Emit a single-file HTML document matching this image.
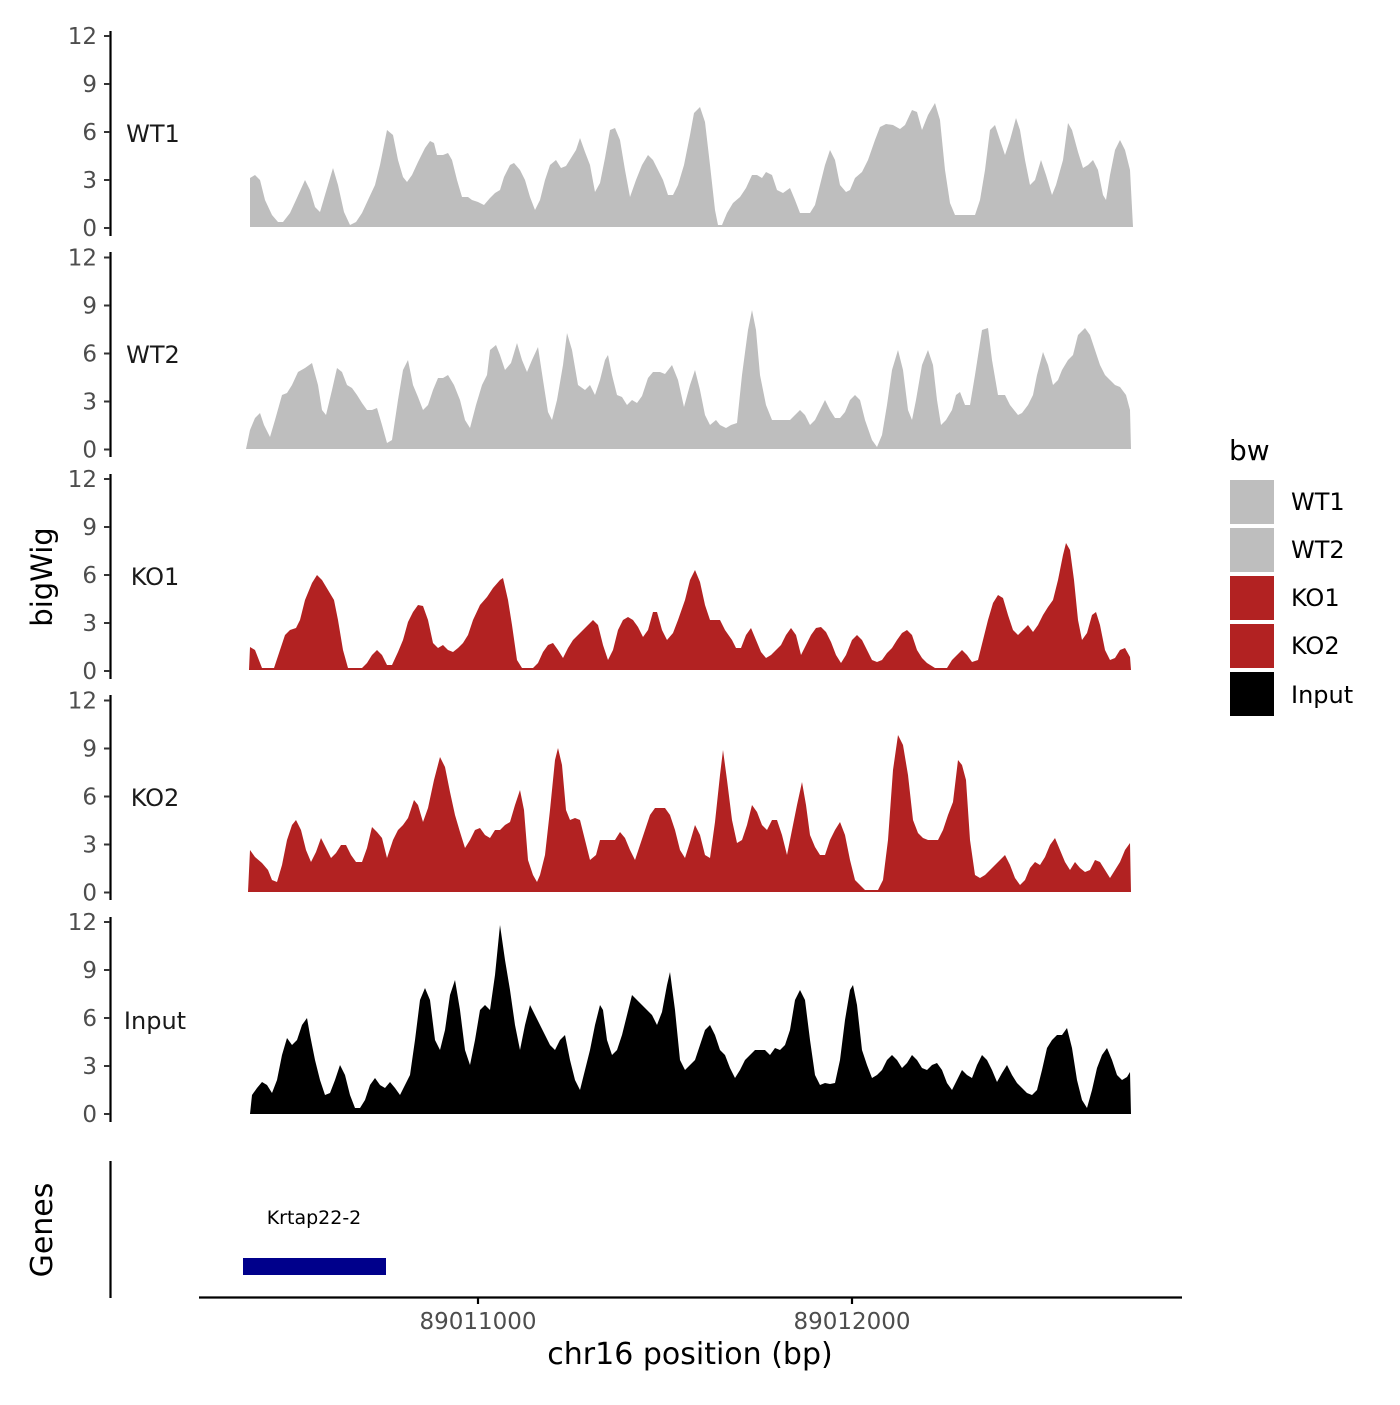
<!DOCTYPE html>
<html><head><meta charset="utf-8"><style>
html,body{margin:0;padding:0;background:#fff;}
svg text{font-family:"DejaVu Sans","Liberation Sans",sans-serif;}
</style></head><body>
<svg width="1400" height="1400" viewBox="0 0 1400 1400" xmlns="http://www.w3.org/2000/svg">
<rect width="1400" height="1400" fill="#fff"/>
<g stroke="#000" stroke-width="2.2" fill="none">
<line x1="110.5" y1="31" x2="110.5" y2="236"/>
<line x1="110.5" y1="252" x2="110.5" y2="457"/>
<line x1="110.5" y1="474" x2="110.5" y2="679"/>
<line x1="110.5" y1="695" x2="110.5" y2="900"/>
<line x1="110.5" y1="917" x2="110.5" y2="1122"/>
<line x1="110.5" y1="1161" x2="110.5" y2="1298"/>
<line x1="199" y1="1297.5" x2="1182" y2="1297.5"/>
<line x1="478" y1="1297" x2="478" y2="1304"/>
<line x1="852" y1="1297" x2="852" y2="1304"/>
</g>
<g fill="#4d4d4d" font-size="23" text-anchor="end">
<g id="t1"><text x="97" y="44">12</text><text x="97" y="92">9</text><text x="97" y="140">6</text><text x="97" y="188">3</text><text x="97" y="236">0</text></g>
<use href="#t1" y="221.5"/><use href="#t1" y="443"/><use href="#t1" y="664.5"/><use href="#t1" y="886"/>
</g>
<g stroke="#333" stroke-width="2">
<g id="k1"><line x1="104" y1="36" x2="110" y2="36"/><line x1="104" y1="84" x2="110" y2="84"/><line x1="104" y1="132" x2="110" y2="132"/><line x1="104" y1="180" x2="110" y2="180"/><line x1="104" y1="228" x2="110" y2="228"/></g>
<use href="#k1" y="221.5"/><use href="#k1" y="443"/><use href="#k1" y="664.5"/><use href="#k1" y="886"/>
</g>
<g font-size="24" fill="#1a1a1a" text-anchor="middle">
<text x="153" y="142">WT1</text><text x="153" y="363">WT2</text><text x="155" y="585">KO1</text><text x="155" y="806">KO2</text><text x="155" y="1029">Input</text>
</g>
<polygon fill="#bebebe" points="250,227 250,178 255,175 260,180 265,200 272,215 278,222 283,222 290,213 296,200 305,180 310,190 315,207 320,212 325,195 333,168 338,185 344,212 350,225 356,222 362,213 368,200 375,185 380,165 387,130 393,135 398,160 403,177 407,182 412,175 418,162 425,148 430,141 434,143 437,155 443,155 448,153 452,160 457,180 462,197 468,197 472,200 478,202 484,205 490,198 495,193 500,190 504,177 510,165 514,163 520,170 525,180 530,197 535,210 540,200 545,180 550,165 556,160 561,168 566,166 571,158 576,150 580,138 585,152 590,165 595,192 600,183 605,158 610,130 615,128 620,140 625,170 630,197 636,180 642,165 648,155 653,160 658,170 663,180 668,195 673,195 678,185 684,165 690,135 694,113 700,107 705,122 710,165 715,210 718,225 722,225 727,213 733,203 740,197 746,188 752,175 757,175 762,178 766,172 772,175 777,190 783,193 790,188 795,200 800,213 810,213 815,205 820,185 825,165 830,150 835,160 840,185 846,192 850,190 855,178 862,172 868,160 875,140 880,127 886,124 893,125 900,129 905,125 912,110 917,112 922,130 928,115 935,103 940,120 945,170 950,203 955,215 975,215 980,200 985,170 990,130 995,125 1000,140 1005,155 1010,140 1016,118 1020,130 1025,160 1030,185 1035,180 1041,160 1046,175 1052,195 1056,185 1063,160 1068,123 1072,130 1078,152 1083,168 1088,165 1093,160 1098,170 1103,195 1106,200 1110,175 1115,150 1120,140 1125,150 1130,170 1133,227"/>
<polygon fill="#bebebe" points="246,449 250,430 255,418 260,413 264,425 270,437 275,420 282,395 287,393 292,385 298,372 305,368 312,363 318,385 322,410 326,415 332,390 337,368 342,372 347,385 352,388 357,395 362,403 367,410 372,410 377,408 382,425 387,443 392,440 398,400 403,370 408,360 413,385 418,397 423,410 428,405 433,390 438,378 443,378 448,375 454,385 460,400 465,420 470,428 476,405 482,385 487,375 490,350 496,345 500,355 505,370 511,363 517,343 522,360 527,372 532,360 538,347 543,380 548,412 552,420 557,400 563,365 567,333 572,350 578,385 585,390 590,385 595,395 600,380 605,360 608,355 612,375 617,395 622,397 627,405 632,400 637,403 642,396 648,378 653,372 660,372 665,374 672,365 678,380 684,407 690,385 695,370 700,390 705,415 710,425 716,420 720,425 726,428 731,425 737,423 742,375 748,330 752,310 756,330 760,375 766,405 772,420 790,420 795,415 800,410 805,415 810,425 815,420 820,410 825,400 830,410 835,418 840,418 845,412 850,400 855,395 860,400 865,420 872,440 877,447 882,435 887,405 892,370 898,350 903,370 908,410 912,420 916,400 922,365 928,350 933,365 937,400 941,425 946,420 952,410 956,395 960,392 965,405 970,405 975,375 982,330 988,328 992,360 998,395 1005,395 1010,405 1018,415 1022,413 1028,405 1033,395 1037,375 1043,352 1048,365 1053,385 1058,380 1062,370 1068,360 1073,355 1078,335 1085,328 1090,335 1095,350 1100,365 1105,375 1110,380 1115,385 1120,387 1126,395 1130,410 1131,449"/>
<polygon fill="#b22222" points="249,670 250,647 255,650 262,668 274,668 280,650 285,635 290,630 296,628 300,620 305,600 312,583 317,575 322,580 328,590 334,600 338,620 343,650 348,668 362,668 367,663 372,655 377,650 382,655 387,665 392,665 398,652 403,640 408,622 413,612 418,605 423,606 428,620 433,643 438,648 443,645 448,650 453,652 458,648 463,643 468,635 473,620 480,605 487,597 493,588 500,580 503,578 508,600 512,625 517,660 522,668 533,668 538,663 543,652 548,645 553,643 558,650 563,658 568,648 573,640 578,635 583,630 588,625 593,620 598,625 603,645 608,660 613,650 618,630 623,620 628,617 633,620 638,627 643,637 648,630 653,612 657,612 662,630 667,640 673,633 678,620 685,600 690,580 695,570 700,582 705,605 710,620 720,620 725,630 732,640 736,648 741,648 746,635 751,628 756,640 761,652 766,658 771,655 776,650 781,645 786,635 791,628 796,635 801,655 806,645 811,635 816,628 821,627 826,632 831,642 836,655 841,663 846,655 852,640 857,635 862,640 867,650 872,660 877,662 882,660 887,653 892,648 897,640 902,633 907,630 912,635 917,650 922,658 927,663 935,668 947,668 952,660 957,655 962,650 967,655 972,662 978,660 983,640 988,620 993,603 998,595 1003,598 1008,615 1013,630 1018,635 1023,630 1028,625 1033,632 1038,625 1043,615 1048,607 1053,600 1058,580 1063,555 1066,543 1070,550 1074,580 1078,620 1082,640 1087,633 1092,615 1096,612 1100,625 1105,650 1110,660 1115,658 1120,650 1125,648 1130,657 1131,670"/>
<polygon fill="#b22222" points="248,892 250,850 255,857 262,863 268,870 272,880 277,882 282,865 287,840 292,825 296,820 301,830 306,850 311,862 316,852 321,838 326,848 331,858 336,853 341,845 346,845 351,855 356,862 362,862 367,848 372,827 377,832 382,838 387,858 393,840 398,830 403,825 408,818 414,800 418,805 423,822 428,808 434,780 440,757 445,767 450,792 455,815 460,832 465,848 470,840 475,830 480,828 485,835 490,838 495,830 500,830 505,825 510,822 515,805 520,790 524,810 528,860 533,875 537,882 540,875 545,855 550,810 555,760 558,748 562,765 566,810 570,820 575,818 580,820 585,840 590,860 596,855 600,840 605,840 615,840 620,832 625,838 630,850 635,860 640,845 645,830 650,815 655,808 665,808 670,815 675,830 680,850 685,858 690,842 695,825 700,835 705,855 710,858 715,822 720,775 723,750 727,780 732,820 737,843 742,840 747,825 752,805 757,812 762,825 767,830 772,820 777,820 782,835 787,855 792,830 797,805 802,782 806,805 810,835 815,847 820,855 825,855 830,840 835,830 840,822 845,835 850,860 855,880 860,885 865,890 868,890 878,890 883,880 888,840 893,770 898,735 903,745 908,775 913,820 918,833 923,838 928,840 938,840 943,830 948,815 953,802 958,760 962,765 966,780 970,840 975,875 980,878 985,875 990,870 995,865 1000,860 1005,855 1010,865 1015,878 1020,885 1025,880 1030,868 1035,862 1040,865 1045,857 1050,845 1055,838 1060,850 1065,862 1070,870 1075,862 1080,868 1085,872 1090,870 1095,860 1100,862 1105,870 1110,878 1115,870 1120,862 1125,850 1130,843 1131,892"/>
<polygon fill="#000" points="250,1114 252,1095 257,1088 262,1082 267,1085 272,1093 277,1080 282,1055 287,1038 292,1045 297,1040 302,1025 307,1018 310,1035 315,1060 320,1080 325,1095 330,1093 335,1080 340,1065 345,1075 350,1095 355,1108 360,1108 365,1100 370,1085 375,1078 380,1085 385,1088 390,1082 395,1088 400,1095 405,1085 410,1075 415,1040 420,1000 425,988 430,1000 435,1040 440,1050 445,1030 450,995 455,980 460,1010 465,1050 470,1065 475,1040 480,1010 485,1005 490,1010 495,975 500,925 505,960 510,990 515,1025 520,1050 525,1025 530,1005 535,1015 540,1025 545,1035 550,1045 555,1050 560,1040 565,1035 570,1060 575,1080 580,1090 585,1070 590,1050 595,1025 600,1005 603,1010 607,1040 612,1055 617,1050 622,1035 627,1015 632,995 637,1000 642,1005 647,1010 652,1015 657,1025 662,1012 667,985 670,972 675,1010 680,1060 685,1070 690,1065 695,1060 700,1045 705,1030 710,1025 715,1035 720,1050 725,1055 730,1068 735,1078 740,1070 745,1060 750,1055 755,1050 765,1050 770,1055 775,1048 780,1050 785,1045 790,1030 795,1000 800,990 805,1000 810,1040 815,1075 820,1085 825,1083 830,1084 835,1083 840,1060 845,1020 850,990 853,985 857,1005 862,1050 867,1065 872,1078 877,1075 882,1070 887,1060 892,1055 897,1060 902,1068 907,1063 912,1055 917,1060 922,1068 927,1070 932,1065 937,1063 942,1070 947,1083 952,1090 957,1080 962,1070 967,1075 972,1078 977,1065 982,1055 987,1060 992,1070 997,1082 1002,1073 1007,1065 1012,1075 1017,1083 1022,1088 1027,1093 1032,1095 1037,1090 1042,1070 1047,1048 1052,1040 1057,1035 1062,1035 1067,1028 1072,1048 1077,1080 1082,1100 1087,1108 1092,1090 1097,1068 1102,1055 1107,1048 1112,1060 1117,1075 1122,1080 1127,1077 1130,1072 1131,1114"/>
<rect x="243" y="1258" width="143" height="17" fill="#00008b"/>
<text x="314" y="1224" font-size="19" text-anchor="middle" fill="#000">Krtap22-2</text>
<text transform="translate(52,577) rotate(-90)" font-size="29" text-anchor="middle" fill="#000">bigWig</text>
<text transform="translate(52,1230) rotate(-90)" font-size="30" text-anchor="middle" fill="#000">Genes</text>
<g font-size="23" fill="#4d4d4d" text-anchor="middle"><text x="478" y="1329">89011000</text><text x="852" y="1329">89012000</text></g>
<text x="690" y="1364" font-size="30" text-anchor="middle" fill="#000">chr16 position (bp)</text>
<text x="1229" y="460" font-size="28" fill="#000">bw</text>
<rect x="1230" y="480" width="44" height="44" fill="#bebebe"/>
<rect x="1230" y="528" width="44" height="44" fill="#bebebe"/>
<rect x="1230" y="576" width="44" height="44" fill="#b22222"/>
<rect x="1230" y="624" width="44" height="44" fill="#b22222"/>
<rect x="1230" y="672" width="44" height="44" fill="#000"/>
<g font-size="24" fill="#000"><text x="1291" y="510">WT1</text><text x="1291" y="558">WT2</text><text x="1291" y="606">KO1</text><text x="1291" y="654">KO2</text><text x="1291" y="703">Input</text></g>
</svg>
</body></html>
